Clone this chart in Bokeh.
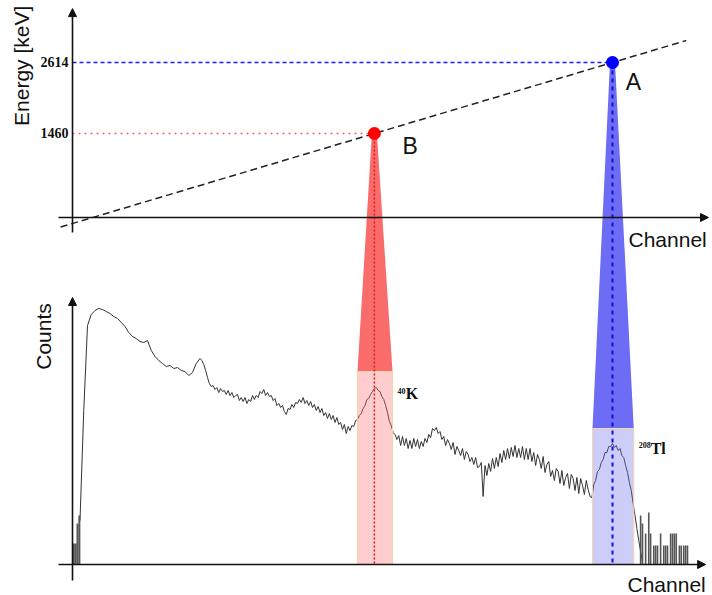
import numpy as np
from bokeh.plotting import figure
from bokeh.models import Range1d, Arrow, NormalHead
from bokeh.core.properties import value
from bokeh.embed import file_html
from bokeh.resources import INLINE

# ---------------- data ----------------
peak_labels_mass = ["40", "208"]
peak_labels_elem = ["K", "Tl"]
point_names = ["B", "A"]
peak_channels = [483, 864]
peak_energies = [1460, 2614]
energy_tick_labels = ["1460", "2614"]
window_lo = [456, 832]
window_hi = [512, 898]
window_top_counts = [772, 544]

start_bar_channels = [2, 5, 8, 11]
start_bar_counts = [84, 84, 164, 196]

# smooth low-energy part: channels 12..204, step 6
spec_a_first, spec_a_step = 12, 6
spectrum_a = [
    176, 616, 956, 1000, 1016, 1024, 1020, 1012, 1004, 992, 984, 968, 952, 928, 912, 904,
    892, 888, 896, 856, 832, 816, 804, 792, 796, 784, 788, 776, 772, 756, 768, 804, 824,
]
# noisy part: channels 207..912, step 3
spec_b_first, spec_b_step = 207, 3
spectrum_b = [
    816, 800, 776, 748, 724, 712, 716, 700, 708, 688, 704, 692, 696, 680, 696, 676,
    688, 668, 676, 680, 656, 668, 652, 668, 644, 660, 652, 676, 660, 676, 668, 692,
    684, 700, 676, 688, 672, 676, 656, 664, 636, 644, 628, 636, 612, 600, 624, 620,
    640, 628, 648, 644, 660, 648, 668, 644, 656, 636, 652, 628, 640, 616, 632, 608,
    624, 596, 608, 584, 604, 580, 596, 568, 588, 560, 568, 540, 560, 524, 552, 536,
    556, 552, 576, 580, 596, 604, 624, 636, 660, 664, 680, 692, 704, 708, 696, 692,
    672, 660, 636, 608, 572, 556, 528, 520, 500, 516, 476, 512, 476, 504, 464, 496,
    464, 504, 472, 500, 464, 492, 472, 504, 488, 520, 508, 544, 536, 548, 524, 532,
    500, 512, 476, 500, 484, 460, 488, 440, 472, 456, 436, 464, 420, 452, 440, 412,
    428, 400, 428, 388, 392, 408, 272, 396, 356, 404, 372, 424, 384, 428, 392, 444,
    408, 456, 420, 464, 424, 468, 432, 476, 428, 464, 428, 472, 420, 464, 420, 464,
    412, 448, 396, 440, 420, 384, 432, 368, 400, 412, 352, 376, 336, 384, 372, 324,
    376, 316, 348, 364, 304, 360, 344, 296, 348, 284, 344, 316, 280, 336, 300, 272,
    268, 320, 336, 372, 380, 408, 420, 448, 448, 472, 472, 484, 468, 476, 456, 464,
    436, 428, 396, 368, 328, 296, 244, 196, 144, 96, 52, 8,
]

tail_channels = [909, 912, 917, 922, 925, 930, 933, 936, 941, 946, 949, 952, 957, 960,
                 963, 966, 971, 974, 978, 981, 984]
tail_counts = [196, 164, 124, 208, 124, 76, 76, 76, 124, 76, 76, 76, 124, 124,
               124, 124, 76, 76, 76, 76, 76]

# ---------------- layout ----------------
W, H = 712, 595
xr = Range1d(-115.2, 1024.0)          # channel
ye = Range1d(-6049.1, 3621.7)         # energy (keV), upper panel
yc = Range1d(-124.0, 2256.0)          # counts, lower panel

def counts_to_energy(c):
    f = (c - yc.start) / (yc.end - yc.start)
    return ye.start + f * (ye.end - ye.start)

p = figure(width=W, height=H, x_range=xr, y_range=ye, output_backend="svg",
           toolbar_location=None, min_border=0, x_axis_location=None,
           y_axis_location=None, outline_line_color=None,
           background_fill_color="white", border_fill_color="white")
p.extra_y_ranges = {"counts": yc}
p.xgrid.visible = False
p.ygrid.visible = False

E_AXIS = 95            # energy level where the channel axis of the upper panel sits
APEX_HALF = 4          # half width (channels) of the beam at its apex

# beams (trapezoids) from calibration point to peak window
beam_colors = ["#fa6c6c", "#6c6cf5"]
for i in range(2):
    e_base = counts_to_energy(window_top_counts[i])
    xs = [peak_channels[i] - APEX_HALF, peak_channels[i] + APEX_HALF, window_hi[i], window_lo[i]]
    ys = [peak_energies[i], peak_energies[i], e_base, e_base]
    p.patch(xs, ys, fill_color=beam_colors[i], line_color=None)

# spectrum
ch_a = spec_a_first + spec_a_step * np.arange(len(spectrum_a))
ch_b = spec_b_first + spec_b_step * np.arange(len(spectrum_b))
spec_ch = np.concatenate([ch_a, ch_b])
spec_counts = list(spectrum_a) + list(spectrum_b)
p.line(spec_ch, spec_counts, y_range_name="counts", line_color="#333333", line_width=1)
p.segment(x0=start_bar_channels, y0=[0] * len(start_bar_channels), x1=start_bar_channels,
          y1=start_bar_counts, y_range_name="counts", line_color="#555555", line_width=2)
p.segment(x0=tail_channels, y0=[0] * len(tail_channels), x1=tail_channels,
          y1=tail_counts, y_range_name="counts", line_color="#555555", line_width=1.6)

# peak windows (translucent, over spectrum)
band_colors = ["#ff7070", "#7070f1"]
for i in range(2):
    p.quad(left=window_lo[i], right=window_hi[i], bottom=0, top=window_top_counts[i],
           y_range_name="counts", fill_color=band_colors[i], fill_alpha=0.35,
           line_color="#f3d4a4", line_width=1)

# axes with arrows
head = dict(size=8, fill_color="#111111", line_color="#111111")
p.add_layout(Arrow(end=NormalHead(**head), x_start=0, y_start=-150, x_end=0, y_end=3490,
                   line_color="#111111", line_width=1.6))
p.add_layout(Arrow(end=NormalHead(**head), x_start=-22.4, y_start=E_AXIS, x_end=1017.6,
                   y_end=E_AXIS, line_color="#111111", line_width=1.6))
p.add_layout(Arrow(end=NormalHead(**head), x_start=0, y_start=-64, x_end=0, y_end=1068,
                   line_color="#111111", line_width=1.6, y_range_name="counts"))
p.add_layout(Arrow(end=NormalHead(**head), x_start=-22.4, y_start=0, x_end=1013,
                   y_end=0, line_color="#111111", line_width=1.6, y_range_name="counts"))

# calibration line through the two points
slope = (peak_energies[1] - peak_energies[0]) / (peak_channels[1] - peak_channels[0])
cal_x = np.array([-19.0, 982.0])
cal_y = peak_energies[0] + slope * (cal_x - peak_channels[0])
p.line(cal_x, cal_y, line_color="#222222", line_width=1.5, line_dash="7 4")

# guide lines
p.line([0, peak_channels[0]], [peak_energies[0]] * 2, line_color="#ff5a5a",
       line_width=1.5, line_dash="2 4")
p.line([0, peak_channels[1]], [peak_energies[1]] * 2, line_color="#1a1aff",
       line_width=1.4, line_dash="4 3")
e0 = counts_to_energy(0)
p.line([peak_channels[0]] * 2, [peak_energies[0], e0], line_color="#e01818",
       line_width=1.5, line_dash="2 2")
p.line([peak_channels[1]] * 2, [peak_energies[1], e0], line_color="#1010d0",
       line_width=2, line_dash="4 4")

# calibration points
p.scatter(peak_channels, peak_energies, size=13, fill_color=["#ff0000", "#0000ff"],
          line_color=None)

sans = value("Liberation Sans")
serif = value("Liberation Serif")

# tick labels on energy axis
p.text(x=[-6.4] * 2, y=peak_energies, text=energy_tick_labels, text_font=serif,
       text_font_style="bold", text_font_size="14px", text_align="right",
       text_baseline="middle", text_color="#111111")

# axis titles
p.text(x=[-82], y=[2560], text=["Energy [keV]"], angle=np.pi / 2, text_font=sans,
       text_font_size="21px", text_align="center", text_baseline="middle",
       text_color="#111111")
p.text(x=[-46], y=[912], text=["Counts"], angle=np.pi / 2, text_font=sans,
       text_font_size="21px", text_align="center", text_baseline="middle",
       text_color="#111111", y_range_name="counts")
p.text(x=[889.6], y=[-263], text=["Channel"], text_font=sans, text_font_size="21px",
       text_align="left", text_baseline="middle", text_color="#111111")
p.text(x=[888], y=[-78], text=["Channel"], text_font=sans, text_font_size="21px",
       text_align="left", text_baseline="middle", text_color="#111111",
       y_range_name="counts")

# point labels A / B
p.text(x=[peak_channels[0] + 45, peak_channels[1] + 21],
       y=[peak_energies[0] - 211, peak_energies[1] - 309], text=point_names,
       text_font=sans, text_font_size="23px", text_align="left",
       text_baseline="middle", text_color="#111111")

# isotope labels
p.text(x=[peak_channels[0] + 37, peak_channels[1] + 42], y=[696, 478],
       text=peak_labels_mass, text_font=serif, text_font_style="bold",
       text_font_size="8px", text_align="left", text_baseline="middle",
       text_color="#111111", y_range_name="counts")
p.text(x=[peak_channels[0] + 50, peak_channels[1] + 61], y=[684, 464],
       text=peak_labels_elem, text_font=serif, text_font_style="bold",
       text_font_size="16px", text_align="left", text_baseline="middle",
       text_color="#111111", y_range_name="counts")

open("out.html", "w").write(file_html(p, INLINE))
